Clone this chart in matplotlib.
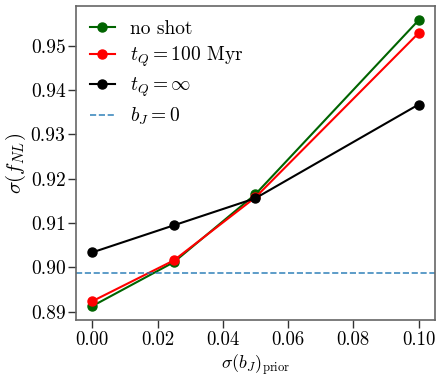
import matplotlib
matplotlib.use("Agg")
import matplotlib.pyplot as plt

plt.rcParams['font.family'] = 'serif'
plt.rcParams['font.serif'] = ['cmr10']
plt.rcParams['mathtext.fontset'] = 'cm'
plt.rcParams['axes.unicode_minus'] = False
plt.rcParams['axes.formatter.use_mathtext'] = True

x = [0.0, 0.025, 0.05, 0.1]
no_shot = [0.8913, 0.9012, 0.9165, 0.9557]
tq_100 = [0.8924, 0.9016, 0.9158, 0.9528]
tq_inf = [0.9034, 0.9095, 0.9156, 0.9367]
bj_zero = 0.8987

fig = plt.figure(figsize=(4.37, 3.76), dpi=100)
ax = fig.add_axes([0.174, 0.148, 0.821, 0.836])

ax.plot(x, no_shot, '-o', color='darkgreen', lw=1.5, ms=6.5, label='no shot')
ax.plot(x, tq_100, '-o', color='red', lw=1.5, ms=6.5, label=r'$t_Q=100$ Myr')
ax.plot(x, tq_inf, '-o', color='black', lw=1.5, ms=6.5, label=r'$t_Q=\infty$')
ax.axhline(bj_zero, color='C0', ls='--', lw=1.2, alpha=0.85, label=r'$b_J=0$')

ax.set_xlabel(r'$\sigma(b_J)_{\rm prior}$', fontsize=13, va='top')
ax.xaxis.set_label_coords(0.5, -0.1)
ax.set_ylabel(r'$\sigma(f_{NL})$', fontsize=15, labelpad=2)
ax.set_xticks([0.0, 0.02, 0.04, 0.06, 0.08, 0.10])
ax.set_xticklabels(['0.00', '0.02', '0.04', '0.06', '0.08', '0.10'])
ax.set_yticks([0.89, 0.90, 0.91, 0.92, 0.93, 0.94, 0.95])
ax.set_yticklabels(['0.89', '0.90', '0.91', '0.92', '0.93', '0.94', '0.95'])
ax.tick_params(labelsize=14, length=6, width=1, direction='out', color='#333333', pad=1.5)
ax.tick_params(axis='x', labelsize=13.5)
for s in ax.spines.values():
    s.set_color('#666666')
    s.set_linewidth(1.2)

leg = ax.legend(loc='upper left', frameon=False, fontsize=14, handlelength=1.3,
                handletextpad=0.8, borderaxespad=0.3, labelspacing=0.35)
fig.savefig('out.png', dpi=100)
